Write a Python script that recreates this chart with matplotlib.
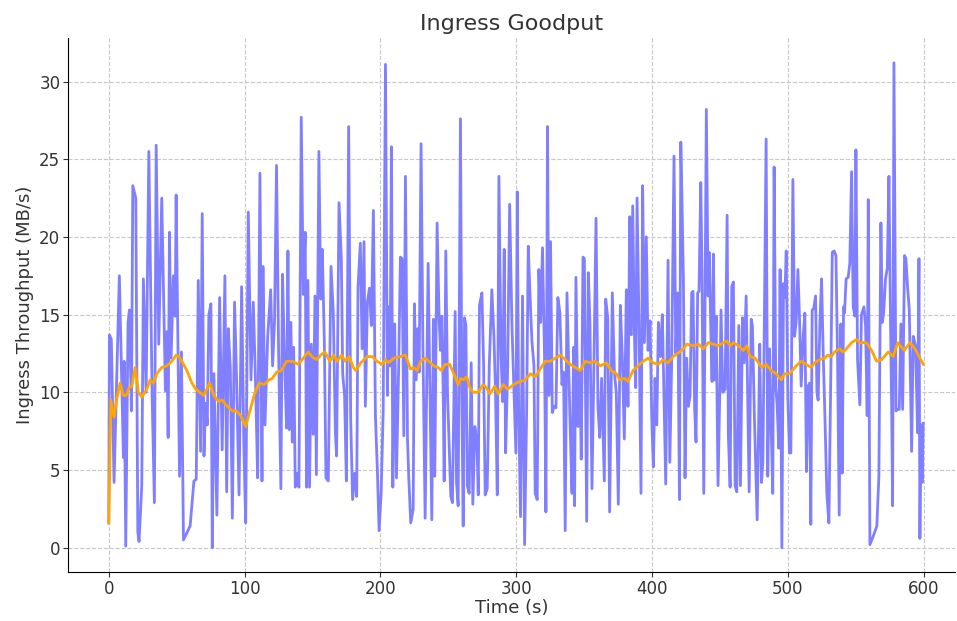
import matplotlib
matplotlib.use("Agg")
import matplotlib.pyplot as plt

# raw ingress goodput samples (time in s, MB/s)
times = [
    0.0, 0.5, 1.9, 3.9, 7.8, 10.8, 11.3, 12.5, 14.2, 15.2, 16.7, 17.7, 19.9, 21.4, 22.3, 24.3,
    25.5, 27.5, 29.5, 31.9, 33.6, 34.9, 36.8, 39.0, 41.7, 42.7, 43.7, 44.7, 45.9, 47.6, 48.9,
    49.6, 52.1, 53.5, 55.0, 59.9,
    62.7, 64.4, 65.9, 67.6, 68.8, 70.1, 71.3, 72.5, 73.7, 75.2, 76.2, 77.4, 78.7, 79.6, 81.6,
    83.5, 85.5, 86.8, 88.0, 89.5, 91.0, 92.6, 94.1, 95.9, 97.8, 99.5, 100.8, 102.7, 104.7,
    106.4, 108.1, 109.6, 111.3, 112.8, 113.5, 115.0, 117.0, 119.2,
    120.6, 122.0, 123.5, 125.0, 126.7, 127.9, 129.4, 130.9, 131.9, 132.9, 134.1, 135.1, 136.1,
    137.3, 138.8, 140.0, 141.7, 143.2, 144.6, 145.6, 146.6, 147.8, 149.1, 150.5, 151.8, 152.8,
    154.7, 156.0, 157.2, 158.7, 159.9, 161.6, 163.6, 165.3, 166.8, 167.7, 169.5, 171.2, 172.2,
    173.6, 174.9, 176.6, 178.1, 179.5,
    181.1, 182.5, 183.5, 185.2, 186.5, 187.9, 188.9, 190.4, 191.9, 193.3, 194.8, 196.3, 197.8,
    199.0, 200.5, 202.0, 203.7, 205.1, 206.1, 207.1, 208.1, 209.1, 210.5, 211.8, 213.5, 214.7,
    215.9, 217.2, 218.4, 219.9, 220.9, 222.3, 224.1, 225.0, 226.3, 227.5, 228.5, 229.9, 231.2,
    232.9, 235.1, 236.3, 237.8, 239.0, 240.0,
    241.7, 243.2, 244.2, 245.2, 246.2, 246.9, 248.1, 249.4, 250.6, 251.8, 253.0, 255.0, 256.0,
    257.2, 258.9, 259.9, 260.9, 261.9, 262.9, 263.9, 265.3, 266.8, 268.0, 269.5, 271.0, 272.0,
    272.9, 274.7, 275.9, 277.1, 278.6, 280.1, 282.0, 283.5, 284.7, 286.0, 287.2, 288.7, 289.9,
    291.1, 292.1, 293.6, 295.1, 296.8, 298.3, 299.7,
    300.7, 301.7, 303.1, 304.6, 306.1, 307.6, 308.8, 310.3, 311.5, 313.0, 313.9, 315.4, 316.6,
    317.9, 319.3, 320.8, 321.8, 323.0, 324.0, 325.2, 326.5, 327.7, 329.2, 330.6, 332.1, 333.6,
    334.8, 336.0, 337.3, 338.5, 339.7, 341.0, 342.2, 342.9, 343.9, 345.4, 346.8, 347.8, 349.1,
    350.1, 351.8, 353.0, 354.2, 355.7, 357.2, 358.7, 360.1, 361.4,
    362.8, 364.8, 365.8, 367.3, 368.7, 370.7, 372.2, 373.6, 375.1, 376.6, 378.1, 379.5, 381.0,
    382.2, 383.5, 384.7, 385.7, 386.9, 387.9, 388.9, 390.3, 391.8, 393.0, 394.3, 395.7, 397.0,
    398.5, 399.7, 400.9, 402.1, 403.4, 404.6, 406.1, 407.5, 408.8, 410.0, 411.7, 413.0, 414.4,
    416.1, 417.4, 418.8, 420.1, 421.1,
    422.2, 423.0, 424.2, 425.4, 426.7, 427.9, 429.1, 430.1, 431.3, 432.3, 433.5, 434.5, 435.8,
    436.7, 438.0, 439.9, 441.2, 442.1, 443.1, 444.1, 445.1, 446.1, 447.1, 448.5, 449.8, 450.7,
    452.0, 453.7, 455.2, 456.1, 457.4, 458.6, 459.8, 461.1, 462.3, 463.8, 465.0, 466.5, 467.7,
    469.2, 470.4, 471.4, 472.9, 473.8, 475.3, 477.3, 478.3, 479.2, 480.5,
    481.5, 482.4, 483.9, 485.1, 486.4, 487.3, 488.8, 489.8, 491.0, 492.0, 493.2, 494.2, 495.5,
    496.7, 497.7, 498.7, 499.9, 501.1, 502.1, 503.6, 504.8, 506.0, 507.3, 508.5, 509.7, 511.2,
    512.4, 513.6, 514.9, 515.9, 516.8, 517.8, 519.0, 520.3, 521.3, 522.2, 523.5, 524.7, 525.9,
    527.4, 528.6, 530.1, 531.6, 532.6, 534.0, 535.3, 536.5, 537.7, 538.9, 539.9,
    540.9, 541.6, 542.8, 544.3, 545.5, 546.8, 548.0, 549.2, 550.0, 551.2, 552.9, 554.1, 555.9,
    557.1, 558.3, 559.1, 560.3, 563.0, 565.4, 566.9, 568.4, 569.4, 570.4, 571.8, 573.1, 574.3,
    575.5, 576.3, 577.0, 578.0, 579.5, 580.7, 581.9, 583.1, 584.4, 585.8, 586.8, 588.0, 589.3,
    591.0, 592.2, 593.9, 595.4, 596.4, 597.1, 597.9, 598.8, 599.5,
]
throughput = [
    1.6, 13.7, 13.4, 4.2, 17.5, 5.8, 12.0, 0.1, 14.5, 15.3, 8.8, 23.3, 22.5, 1.0, 0.4, 4.0,
    17.3, 10.0, 25.5, 9.9, 2.9, 25.9, 13.1, 22.5, 10.1, 13.9, 7.1, 20.3, 12.2, 17.5, 14.9,
    22.7, 4.6, 12.6, 0.5, 1.4,
    4.3, 4.4, 17.2, 6.2, 21.5, 5.9, 9.3, 7.9, 15.0, 15.7, 0.0, 11.2, 5.7, 2.1, 16.1,
    6.3, 17.5, 3.6, 14.1, 11.5, 1.9, 15.8, 10.8, 3.4, 16.8, 6.4, 1.6, 21.6, 10.8,
    15.8, 10.5, 4.5, 24.1, 4.3, 18.1, 7.9, 13.6, 16.6,
    11.7, 14.5, 24.6, 12.8, 3.8, 17.6, 12.1, 7.7, 19.1, 7.6, 14.5, 6.8, 12.9,
    3.9, 4.8, 3.9, 27.7, 16.3, 20.3, 3.9, 17.2, 3.9, 13.1, 7.3, 16.2, 4.7,
    25.5, 16.0, 19.2, 13.2, 4.5, 4.3, 18.1, 15.1, 7.5, 5.9, 22.2, 18.6, 11.2,
    9.8, 4.3, 27.1, 8.2, 3.1,
    4.8, 3.3, 16.8, 19.6, 12.8, 19.7, 9.1, 15.8, 16.7, 14.3, 21.7, 8.5, 4.8,
    1.1, 3.5, 8.7, 31.1, 9.8, 15.5, 11.7, 25.8, 3.9, 14.4, 4.5, 12.1, 18.7,
    18.6, 7.2, 23.9, 7.0, 4.4, 1.6, 2.5, 15.7, 10.8, 14.1, 11.3, 26.0, 13.4,
    1.9, 18.3, 11.1, 1.8, 14.7, 4.6,
    20.9, 14.7, 12.7, 14.9, 10.0, 4.3, 19.1, 9.8, 6.5, 3.3, 2.9, 15.2, 4.2,
    2.7, 27.6, 9.8, 1.4, 14.8, 14.3, 4.0, 3.5, 11.9, 2.8, 7.8, 6.8, 3.4,
    15.6, 16.4, 11.9, 3.4, 3.8, 11.7, 16.6, 13.7, 10.0, 3.4, 23.9, 12.6, 9.4,
    19.2, 6.1, 11.3, 22.1, 14.3, 10.0, 6.1,
    22.9, 9.1, 2.0, 16.2, 0.2, 8.7, 19.4, 15.8, 13.3, 11.7, 3.5, 3.1, 17.9,
    14.5, 19.3, 12.2, 2.3, 27.1, 9.8, 19.7, 8.7, 9.1, 9.0, 16.1, 15.1, 10.5,
    11.3, 1.1, 16.4, 12.1, 7.6, 3.5, 12.9, 2.7, 17.4, 7.8, 11.4, 5.7, 18.7,
    18.6, 1.7, 17.7, 14.5, 3.8, 12.1, 21.2, 9.1, 7.1,
    10.9, 4.3, 16.0, 14.8, 2.3, 16.4, 11.3, 10.0, 2.8, 15.6, 12.1, 7.0, 16.6,
    9.1, 21.3, 13.7, 22.0, 14.0, 10.3, 22.5, 14.5, 3.5, 23.3, 13.2, 20.0, 12.7,
    14.6, 8.3, 5.2, 10.9, 7.9, 14.5, 12.3, 15.0, 9.2, 4.1, 18.5, 5.5, 12.1,
    25.2, 12.5, 16.4, 3.1, 26.1,
    21.2, 17.2, 4.5, 12.2, 9.1, 9.8, 16.4, 16.5, 8.9, 6.8, 16.4, 16.5, 23.5,
    17.7, 3.5, 28.2, 16.2, 19.0, 14.3, 10.7, 18.9, 10.8, 14.9, 4.0, 10.0, 15.3,
    10.0, 10.2, 21.4, 7.2, 3.9, 16.8, 17.1, 4.0, 3.6, 14.3, 4.0, 14.8, 11.9,
    16.2, 9.1, 3.6, 14.7, 14.3, 8.3, 1.8, 7.4, 13.1, 4.2,
    5.5, 12.8, 26.3, 4.6, 12.8, 8.9, 3.5, 24.5, 10.3, 9.2, 6.4, 17.9, 0.0,
    17.0, 16.1, 19.1, 9.6, 6.1, 6.1, 23.7, 13.6, 14.5, 17.9, 14.7, 10.4, 13.6,
    15.1, 4.9, 10.4, 10.6, 1.5, 15.3, 15.4, 16.2, 10.0, 9.5, 14.5, 17.3, 12.6,
    7.7, 3.5, 1.6, 11.7, 19.0, 19.1, 18.8, 12.1, 2.1, 14.4, 4.8,
    15.5, 15.1, 17.3, 17.4, 18.3, 24.2, 15.5, 14.9, 25.6, 12.1, 9.2, 15.0, 15.5,
    14.3, 8.5, 22.4, 0.2, 0.8, 1.4, 4.6, 20.9, 14.5, 15.1, 17.3, 18.0, 23.9,
    14.3, 9.1, 2.7, 31.2, 8.8, 8.9, 8.9, 14.4, 8.9, 18.8, 18.6, 16.8, 15.3,
    6.2, 13.6, 13.0, 7.4, 18.6, 0.6, 7.9, 4.2, 8.0,
]

# moving average
avg_times = [
    0.0, 1.5, 3.9, 6.0, 8.3, 10.8, 12.8, 15.0, 17.0, 19.4, 21.8, 24.3, 28.0, 30.5, 33.0, 35.4,
    39.0, 42.7, 46.4, 49.6, 51.5, 53.8, 57.5, 61.2, 64.0, 67.0, 70.0, 74.2, 77.4, 81.0, 83.5,
    87.2, 91.0, 94.0, 97.0, 100.8, 103.2, 107.0, 110.6, 114.3, 118.0, 120.5, 123.5, 127.0,
    130.9, 135.0, 139.5, 143.2, 146.9, 149.5, 153.0, 156.0, 159.1, 162.8, 165.5, 168.0, 171.4,
    174.0, 177.0, 180.0, 182.0, 185.5, 190.2, 194.0, 197.5, 201.2, 203.7, 206.0, 209.8, 214.5,
    218.4, 222.0, 224.5, 227.0, 229.5, 232.7, 235.5, 239.3, 242.5, 245.0, 247.5, 251.0, 253.5,
    257.2, 259.0, 261.0, 263.5, 265.8, 268.3, 272.0, 275.6, 278.0, 280.6, 284.2, 286.7, 290.4,
    293.5, 296.5, 300.0, 303.0, 306.6, 310.3, 314.0, 317.6, 321.3, 325.0, 328.7, 332.4, 336.0,
    339.7, 343.4, 347.0, 350.8, 354.5, 358.2, 362.0, 366.3, 370.0, 373.6, 376.1, 379.8, 382.2,
    385.9, 389.6, 393.3, 397.0, 400.7, 404.5, 408.0, 411.7, 415.4, 420.3, 423.0, 425.5, 430.4,
    434.0, 437.7, 441.4, 445.1, 448.8, 452.5, 454.9, 457.4, 459.8, 463.5, 467.2, 469.6, 472.1,
    475.8, 480.7, 484.0, 487.6, 491.3, 495.0, 497.4, 501.1, 506.0, 509.7, 513.4, 517.0, 519.5,
    523.2, 526.8, 529.3, 531.8, 534.3, 538.0, 540.4, 542.0, 546.8, 550.5, 553.0, 557.8, 561.5,
    565.2, 568.9, 573.8, 577.5, 580.7, 585.6, 589.8, 593.5, 597.1, 599.6,
]
avg_throughput = [
    1.6, 9.5, 8.4, 9.6, 10.6, 9.8, 9.8, 10.3, 10.4, 11.6, 10.0, 9.7, 10.2, 10.8, 10.6, 11.2,
    11.6, 11.7, 12.0, 12.4, 12.3, 12.0, 11.4, 10.6, 10.2, 10.0, 9.8, 10.6, 9.8, 9.4, 9.5,
    9.1, 8.8, 8.8, 8.5, 7.8, 8.6, 9.8, 10.6, 10.5, 10.8, 10.9, 11.3, 11.4,
    12.0, 12.0, 11.8, 12.2, 12.6, 12.3, 12.1, 12.4, 12.6, 12.0, 12.4, 12.0, 12.4,
    12.0, 12.3, 11.6, 11.4, 11.9, 12.3, 12.3, 12.0, 11.8, 12.1, 11.9, 12.2, 12.3,
    12.4, 11.5, 11.6, 11.4, 12.0, 12.2, 12.0, 11.7, 11.6, 11.4, 11.8, 11.8, 11.3,
    10.5, 10.9, 10.8, 11.0, 10.3, 10.0, 10.0, 10.5, 10.3, 9.9, 10.4, 9.9, 10.5,
    10.2, 10.4, 10.6, 10.7, 10.8, 11.2, 11.0, 11.5, 12.0, 12.0, 12.2, 12.4, 12.1,
    11.8, 11.6, 11.4, 12.0, 11.9, 12.0, 11.7, 11.9, 11.4, 11.2, 10.8, 10.9, 10.7,
    11.4, 11.7, 12.0, 12.2, 11.9, 11.8, 12.1, 11.9, 12.3, 12.6, 12.8, 13.1, 13.0,
    13.1, 12.8, 13.2, 13.1, 13.0, 13.2, 13.3, 13.0, 13.2, 13.0, 12.7, 13.0, 12.3,
    12.2, 11.6, 11.8, 11.4, 11.2, 10.8, 11.2, 11.2, 11.7, 12.0, 11.8, 11.6, 11.9,
    12.1, 12.2, 12.4, 12.3, 12.6, 12.8, 12.6, 12.7, 13.2, 13.4, 13.2, 13.2, 12.7,
    12.0, 12.1, 12.6, 12.3, 13.2, 12.7, 13.2, 12.8, 12.2, 11.8,
]

fig, ax = plt.subplots(figsize=(9.57, 6.21), dpi=100)
fig.subplots_adjust(left=68 / 957, right=0.998, top=1 - 38 / 621, bottom=1 - 572 / 621)

ax.plot(times, throughput, color="#7f7fff", linewidth=2)
ax.plot(avg_times, avg_throughput, color="orange", linewidth=2)

ax.set_xlim(-30, 623)
ax.set_ylim(-1.56, 32.8)
ax.set_xticks([0, 100, 200, 300, 400, 500, 600])
ax.set_yticks([0, 5, 10, 15, 20, 25, 30])
ax.grid(True, linestyle="--", color="#c8c8c8", linewidth=0.8)
ax.spines["top"].set_visible(False)
ax.spines["right"].set_visible(False)
ax.tick_params(labelsize=12, colors="#333333", pad=2)

ax.set_title("Ingress Goodput", fontsize=16, color="#333333")
ax.set_xlabel("Time (s)", fontsize=13, color="#333333", labelpad=1)
ax.set_ylabel("Ingress Throughput (MB/s)", fontsize=13, color="#333333", labelpad=4)

fig.savefig("out.png", dpi=100)
